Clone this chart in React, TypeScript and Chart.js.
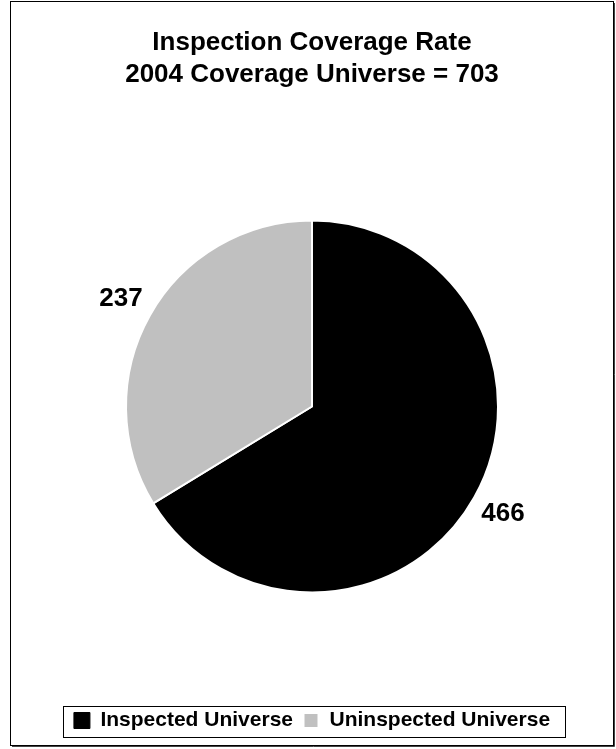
import React, { useEffect, useRef } from 'react';
import { Chart, registerables } from 'chart.js';

Chart.register(...registerables);

const categories: string[] = ['Inspected Universe', 'Uninspected Universe'];
const values: number[] = [466, 237];
const sliceColors: string[] = ['#000000', '#c0c0c0'];
const titleLines: string[] = ['Inspection Coverage Rate', '2004 Coverage Universe = 703'];

const FONT = "'Liberation Sans', Arial, Helvetica, sans-serif";

export default function App() {
  const ref = useRef<HTMLCanvasElement | null>(null);

  useEffect(() => {
    if (!ref.current) return;

    const framePlugin = {
      id: 'frame',
      afterDraw(chart: any) {
        const ctx = chart.ctx;
        ctx.save();
        ctx.strokeStyle = '#000';
        ctx.lineWidth = 1;
        ctx.strokeRect(10.5, 1.5, 603, 744);
        ctx.strokeStyle = '#444';
        ctx.beginPath();
        ctx.moveTo(12, 746.5);
        ctx.lineTo(614.5, 746.5);
        ctx.lineTo(614.5, 3);
        ctx.stroke();
        ctx.restore();
      },
    };

    const legendBoxPlugin = {
      id: 'legendBox',
      afterDraw(chart: any) {
        const lg = chart.legend;
        if (!lg || !lg.legendHitBoxes || !lg.legendHitBoxes.length) return;
        let minX = Infinity, maxX = -Infinity, minY = Infinity, maxY = -Infinity;
        lg.legendHitBoxes.forEach((b: any) => {
          minX = Math.min(minX, b.left);
          maxX = Math.max(maxX, b.left + b.width);
          minY = Math.min(minY, b.top);
          maxY = Math.max(maxY, b.top + b.height);
        });
        const ctx = chart.ctx;
        ctx.save();
        ctx.strokeStyle = '#000';
        ctx.lineWidth = 1;
        const x0 = Math.round(minX - 11);
        const x1 = Math.round(maxX + 15);
        const y0 = Math.round(minY - 4);
        const y1 = Math.round(maxY + 6);
        ctx.strokeRect(x0 + 0.5, y0 + 0.5, x1 - x0, y1 - y0);
        ctx.restore();
      },
    };

    const valueLabelPlugin = {
      id: 'valueLabels',
      afterDatasetsDraw(chart: any) {
        const ctx = chart.ctx;
        const meta = chart.getDatasetMeta(0);
        ctx.save();
        ctx.fillStyle = '#000';
        ctx.font = `bold 26px ${FONT}`;
        ctx.textAlign = 'center';
        ctx.textBaseline = 'middle';
        meta.data.forEach((arc: any, i: number) => {
          const p = arc.getProps(['x', 'y', 'startAngle', 'endAngle', 'outerRadius'], true);
          const a = (p.startAngle + p.endAngle) / 2;
          const r = p.outerRadius + 33;
          ctx.fillText(String(values[i]), p.x + Math.cos(a) * r, p.y + Math.sin(a) * r);
        });
        ctx.restore();
      },
    };

    const chart = new Chart(ref.current, {
      type: 'pie',
      data: {
        labels: categories,
        datasets: [
          {
            data: values,
            backgroundColor: sliceColors,
            borderColor: '#ffffff',
            borderWidth: 2,
            radius: 186,
          } as any,
        ],
      },
      options: {
        responsive: false,
        animation: false,
        layout: { padding: { left: 8, right: 0, top: 0, bottom: 8 } },
        plugins: {
          tooltip: { enabled: false },
          title: {
            display: true,
            text: titleLines,
            color: '#000',
            font: { family: FONT, size: 26, weight: 'bold', lineHeight: 1.23 },
            padding: { top: 27, bottom: 22 },
          },
          legend: {
            position: 'bottom',
            labels: {
              color: '#000',
              font: { family: FONT, size: 21, weight: 'bold' },
              boxWidth: 16,
              boxHeight: 16,
              padding: 10,
              generateLabels: () =>
                categories.map((c, i) => ({
                  text: c,
                  fillStyle: sliceColors[i],
                  strokeStyle: i === 0 ? '#000000' : '#ffffff',
                  lineWidth: i === 0 ? 1 : 3,
                  hidden: false,
                  index: i,
                  datasetIndex: 0,
                })),
            },
          },
        },
      } as any,
      plugins: [framePlugin, legendBoxPlugin, valueLabelPlugin],
    });

    return () => chart.destroy();
  }, []);

  return (
    <div style={{ position: 'absolute', left: 0, top: 0, width: 616, height: 749, background: '#fff' }}>
      <canvas ref={ref} width={616} height={749} style={{ display: 'block' }} />
    </div>
  );
}
